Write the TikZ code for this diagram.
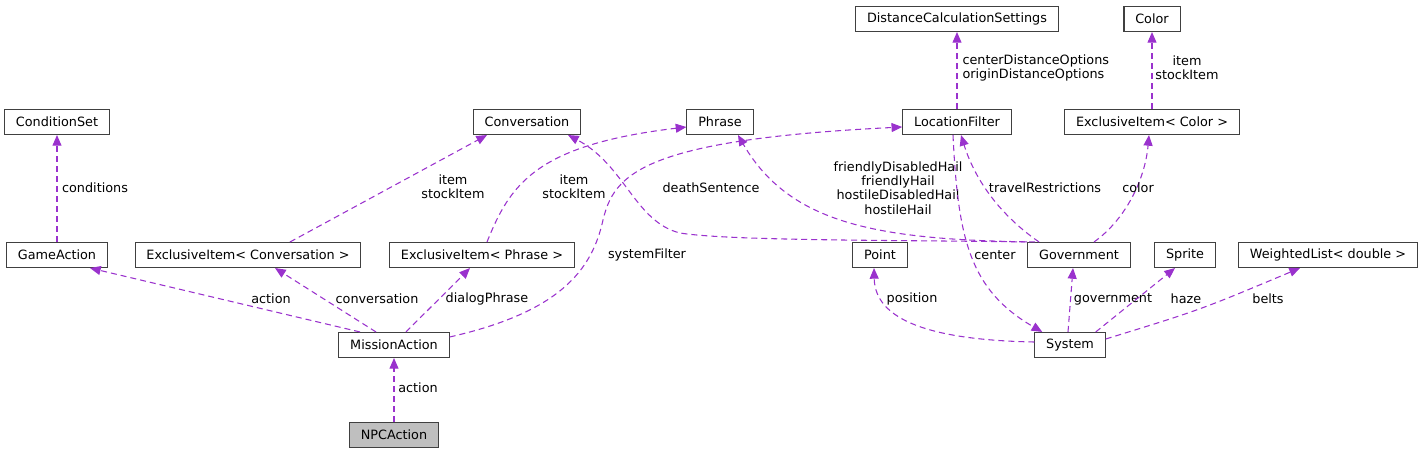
\documentclass[tikz,border=0pt]{standalone}
\usepackage{fontspec}
\setmainfont{DejaVu Sans}
\usepackage{tikz}
\usetikzlibrary{arrows.meta,calc}
\definecolor{orchid}{HTML}{9A32CD}
\definecolor{boxline}{HTML}{404040}

\begin{document}
\begin{tikzpicture}[
  x=0.75pt,y=-0.75pt,font=\fontsize{9.6}{10.8}\selectfont,
  cls/.style={draw=boxline,line width=0.8pt,fill=white,minimum height=18.75pt,inner xsep=8.5pt,inner ysep=0pt},
  uses/.style={draw=orchid,line width=0.8pt,dash pattern=on 4.5pt off 3pt,-{Triangle[length=8pt,width=6.75pt,fill=orchid]}},
  lbl/.style={align=center,inner sep=0pt}
]
\useasboundingbox (0,0) rectangle (1424,453);
% classes
\node[cls] (cs) at (57,122) {ConditionSet};
\node[cls] (ga) at (57,255) {GameAction};
\node[cls] (exconv) at (248,255) {ExclusiveItem< Conversation >};
\node[cls] (exphr) at (482,255) {ExclusiveItem< Phrase >};
\node[cls] (conv) at (527,122) {Conversation};
\node[cls] (phr) at (720,122) {Phrase};
\node[cls] (lf) at (957,122) {LocationFilter};
\node[cls] (dcs) at (957,19) {DistanceCalculationSettings};
\node[cls] (col) at (1152,19) {Color};
\node[cls] (excol) at (1152,122) {ExclusiveItem< Color >};
\node[cls] (gov) at (1079,255) {Government};
\node[cls] (pt) at (880,255) {Point};
\node[cls] (spr) at (1185,255) {Sprite};
\node[cls] (wl) at (1328,255) {WeightedList< double >};
\node[cls] (sys) at (1070,345) {System};
\node[cls] (ma) at (394,345) {MissionAction};
\node[cls,fill=black!25] (npc) at (394,435) {NPCAction};
% members
\draw[uses] (ga) -- (cs) node[lbl] at (95,188) {conditions};
\draw[uses] ($(ma.north)+(-34,0)$) -- ($(ga.south)+(33,0)$) node[lbl] at (271,299) {action};
\draw[uses] ($(ma.north)+(-18,0)$) -- ($(exconv.south)+(27,0)$) node[lbl] at (377,299) {conversation};
\draw[uses] ($(ma.north)+(12,0)$) -- ($(exphr.south)+(-12,0)$) node[lbl] at (487,299) {dialogPhrase};
\draw[uses] ($(ma.east)+(0,-8)$) .. controls (560,312) and (592,270) .. (603,220)
  .. controls (614,175) and (640,140) .. ($(lf.west)+(0,5)$) node[lbl] at (647,255) {systemFilter};
\draw[uses] (npc) -- (ma) node[lbl] at (418,388) {action};
\draw[uses] ($(exconv.north)+(42,0)$) -- ($(conv.south)+(-40,0)$) node[lbl] at (453,187) {item\\stockItem};
\draw[uses] ($(exphr.north)+(5,0)$) .. controls (510,185) and (535,145) .. ($(phr.west)+(0,5)$)
  node[lbl] at (574,187) {item\\stockItem};
\draw[uses] (gov.north west) .. controls (900,240) and (730,241) .. (680,233)
  .. controls (635,222) and (625,165) .. ($(conv.south)+(41,0)$) node[lbl] at (711,188) {deathSentence};
\draw[uses] ($(gov.north west)+(8,0)$) .. controls (880,240) and (790,225) .. ($(phr.south)+(18,0)$)
  node[lbl] at (898,188) {friendlyDisabledHail\\friendlyHail\\hostileDisabledHail\\hostileHail};
\draw[uses] ($(gov.north)+(-40,0)$) .. controls (1000,215) and (975,180) .. ($(lf.south)+(4,0)$)
  node[lbl] at (1045,188) {travelRestrictions};
\draw[uses] ($(gov.north)+(15,0)$) .. controls (1125,220) and (1145,180) .. ($(excol.south)+(-3,0)$)
  node[lbl] at (1138,188) {color};
\draw[uses] (excol) -- (col) node[lbl] at (1187,68) {item\\stockItem};
\draw[uses] (lf) -- (dcs) node[lbl,align=left,anchor=west] at (962,68) {centerDistanceOptions\\originDistanceOptions};
\draw[uses] ($(lf.south)+(-4,0)$) .. controls (958,240) and (970,290) .. ($(sys.north west)+(8,0)$)
  node[lbl] at (995,255) {center};
\draw[uses] ($(sys.west)+(0,-3)$) .. controls (930,340) and (875,320) .. ($(pt.south)+(-6,0)$)
  node[lbl] at (912,299) {position};
\draw[uses] ($(sys.north)+(-2,0)$) -- ($(gov.south)+(-6,0)$) node[lbl] at (1113,299) {government};
\draw[uses] ($(sys.north east)+(-10,0)$) -- ($(spr.south)+(-10,0)$) node[lbl] at (1186,299) {haze};
\draw[uses] ($(sys.east)+(0,-6)$) .. controls (1200,310) .. ($(wl.south)+(-28,0)$) node[lbl] at (1268,299) {belts};
\end{tikzpicture}
\end{document}
